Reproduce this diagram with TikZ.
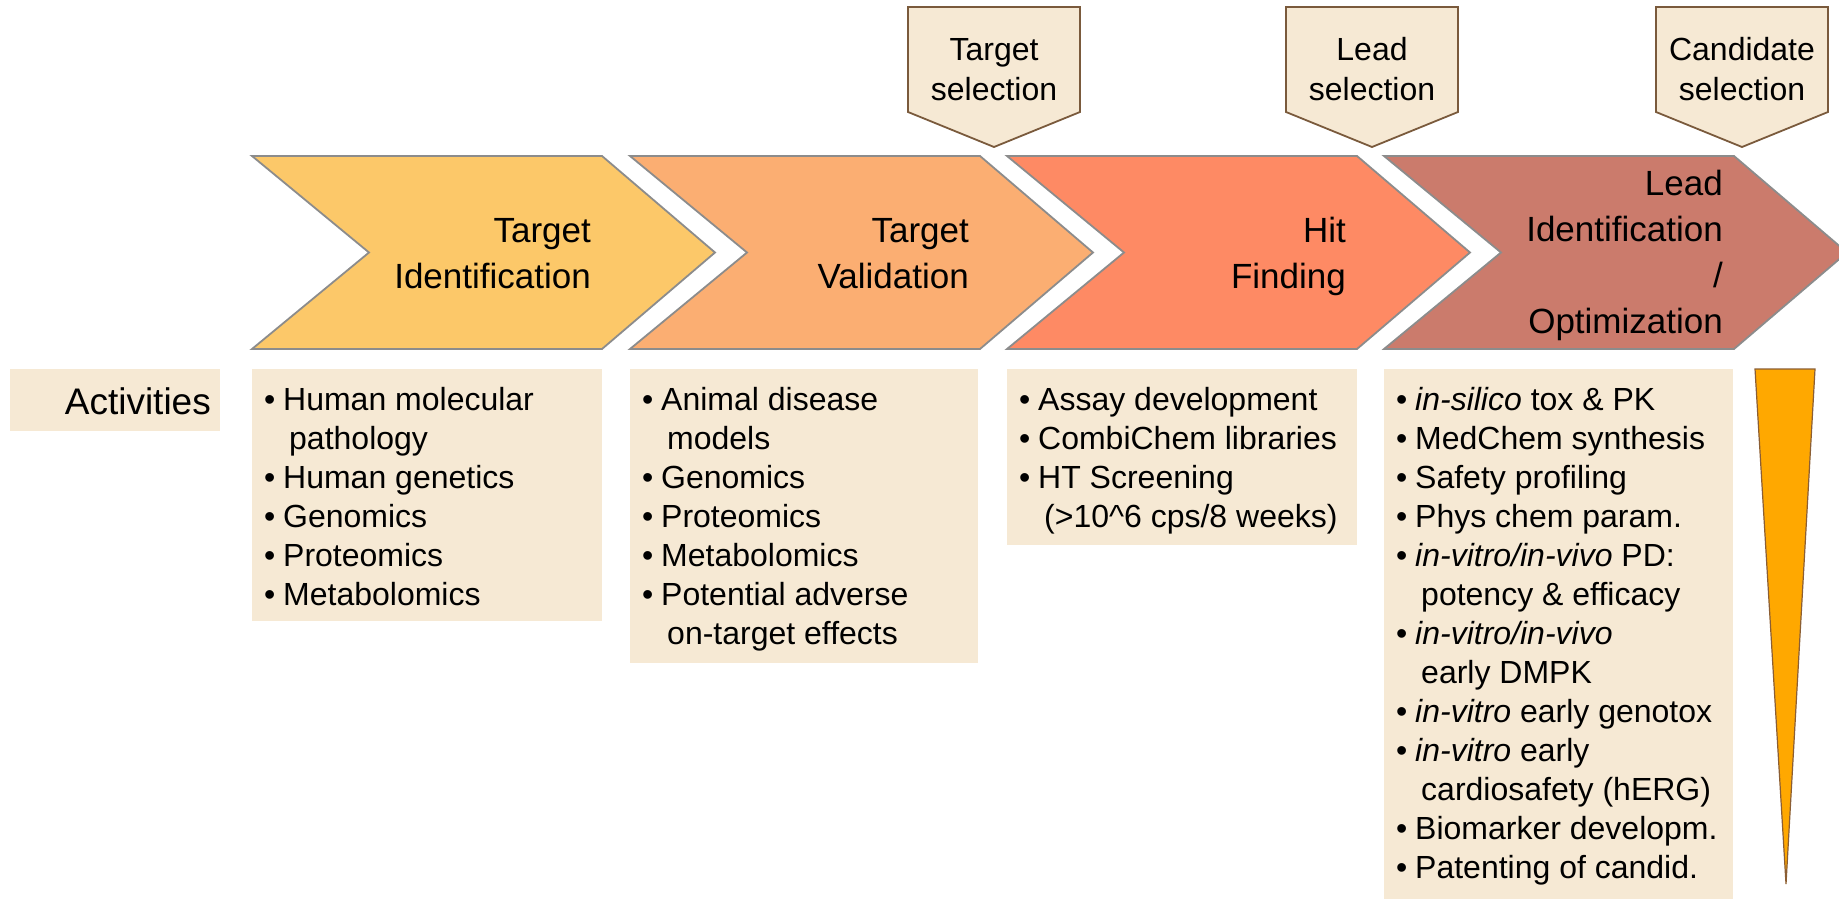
\documentclass[tikz,border=0pt]{standalone}
\usepackage{fontspec}
\setmainfont{Liberation Sans}
\definecolor{cA}{HTML}{FCC869}
\definecolor{cB}{HTML}{FBAE72}
\definecolor{cC}{HTML}{FE8A64}
\definecolor{cD}{HTML}{CB7B6C}
\definecolor{beige}{HTML}{F6E9D4}
\definecolor{chevgray}{HTML}{8C8C8C}
\definecolor{selbrown}{HTML}{7A5A3C}
\definecolor{triorange}{HTML}{FFA800}
\definecolor{tribrown}{HTML}{8B5E34}
\newcommand\bitem[1]{\makebox[19pt][l]{•}#1}
\newcommand\bcont[1]{\hspace*{25pt}#1}
\begin{document}
\begin{tikzpicture}[x=1pt,y=-1pt,
  chev/.style={draw=chevgray, line width=1.8pt, line join=miter},
  sel/.style={draw=selbrown, fill=beige, line width=1.8pt},
  chevtext/.style={anchor=base east, align=right, inner sep=0pt, font=\fontsize{35}{46}\selectfont},
  seltext/.style={anchor=base, align=center, inner sep=0pt, font=\fontsize{32}{40}\selectfont},
  listtext/.style={anchor=base west, align=left, inner sep=0pt, font=\fontsize{32}{39}\selectfont},
  actbox/.style={fill=beige, draw=none}]
\useasboundingbox (0,0) rectangle (1839,899);
% chevrons
\foreach \x/\c in {252/cA, 630/cB, 1007/cC, 1384/cD}
  \draw[chev, fill=\c] (\x,156) -- ++(350,0) -- ++(113,96.5) -- ++(-113,96.5) -- ++(-350,0) -- ++(117,-96.5) -- cycle;
% selection markers
\foreach \cx in {994,1372,1742}
  \draw[sel] (\cx-86,7) -- (\cx+86,7) -- (\cx+86,112) -- (\cx,147) -- (\cx-86,112) -- cycle;
% chevron texts (anchor = baseline of last line)
\node[chevtext] (tid) at (591,288) {Target\\Identification};
\node[chevtext] (tva) at (969,288) {Target\\Validation};
\node[chevtext] (hit) at (1346,288) {Hit\\Finding};
\node[chevtext] (lio) at (1723,333) {Lead\\Identification\\/\\Optimization};
% selection texts
\node[seltext] (stsel) at (994,100) {Target\\selection};
\node[seltext] (slsel) at (1372,100) {Lead\\selection};
\node[seltext] (scsel) at (1742,100) {Candidate\\selection};
% activity boxes
\fill[actbox] (10,369) rectangle (220,431);
\fill[actbox] (252,369) rectangle (602,621);
\fill[actbox] (630,369) rectangle (978,663);
\fill[actbox] (1007,369) rectangle (1357,545);
\fill[actbox] (1384,369) rectangle (1733,899);
\node[anchor=base east, inner sep=0pt, font=\fontsize{37}{44}\selectfont] (act) at (211,414) {Activities};
\node[listtext] (la) at (264,605) {\bitem{Human molecular}\\\bcont{pathology}\\\bitem{Human genetics}\\\bitem{Genomics}\\\bitem{Proteomics}\\\bitem{Metabolomics}};
\node[listtext] (lb) at (642,644) {\bitem{Animal disease}\\\bcont{models}\\\bitem{Genomics}\\\bitem{Proteomics}\\\bitem{Metabolomics}\\\bitem{Potential adverse}\\\bcont{on-target effects}};
\node[listtext] (lc) at (1019,527) {\bitem{Assay development}\\\bitem{CombiChem libraries}\\\bitem{HT Screening}\\\bcont{(>10\^{}6 cps/8 weeks)}};
\node[listtext] (ld) at (1396,878) {\bitem{\textit{in-silico} tox \& PK}\\\bitem{MedChem synthesis}\\\bitem{Safety profiling}\\\bitem{Phys chem param.}\\\bitem{\textit{in-vitro/in-vivo} PD:}\\\bcont{potency \& efficacy}\\\bitem{\textit{in-vitro/in-vivo}}\\\bcont{early DMPK}\\\bitem{\textit{in-vitro} early genotox}\\\bitem{\textit{in-vitro} early}\\\bcont{cardiosafety (hERG)}\\\bitem{Biomarker developm.}\\\bitem{Patenting of candid.}};
% funnel
\draw[fill=triorange, draw=tribrown, line width=1.2pt] (1755,369) -- (1815,369) -- (1786,884) -- cycle;
\end{tikzpicture}
\end{document}
